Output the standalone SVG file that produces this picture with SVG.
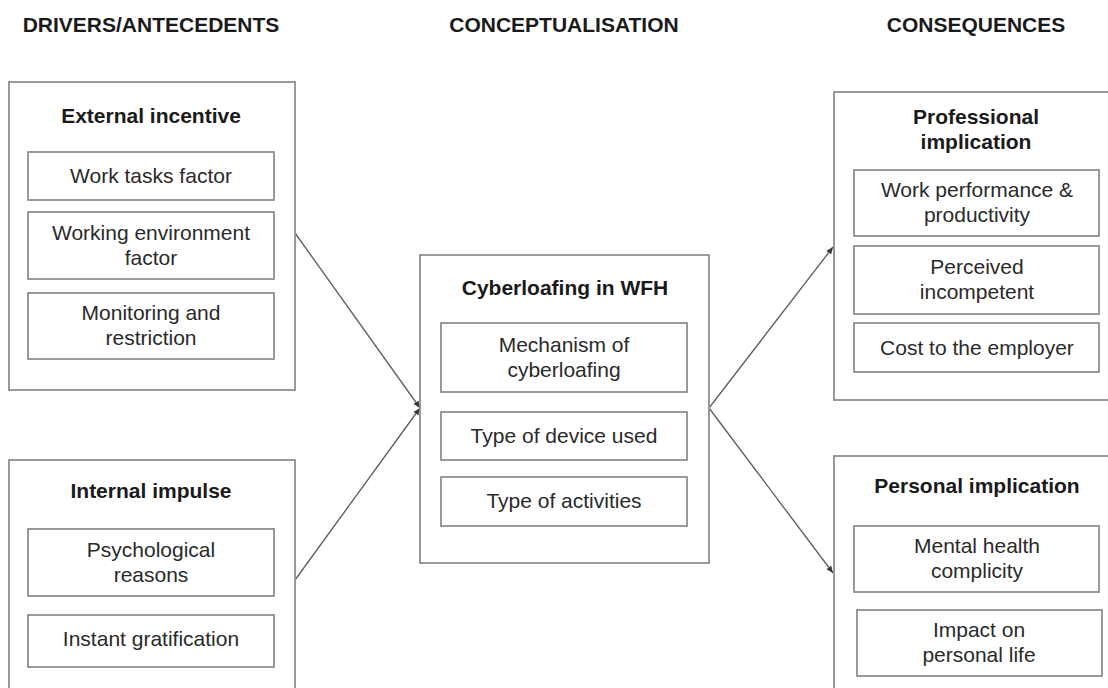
<svg xmlns="http://www.w3.org/2000/svg" width="1108" height="688" viewBox="0 0 1108 688">
  <style>
    .box { fill: #ffffff; stroke: #8f8f8f; stroke-width: 1.8; }
    .hdr { font-family: "Liberation Sans", Arial, sans-serif; font-size: 21px; font-weight: bold; fill: #1a1a1a; text-anchor: middle; }
    .ttl { font-family: "Liberation Sans", Arial, sans-serif; font-size: 21px; font-weight: bold; fill: #1a1a1a; text-anchor: middle; }
    .txt { font-family: "Liberation Sans", Arial, sans-serif; font-size: 21px; fill: #2a2a2a; text-anchor: middle; }
    .con { fill: none; stroke: #5a5a5a; stroke-width: 1.3; marker-end: url(#arr); }
  </style>
  <defs>
    <marker id="arr" markerUnits="userSpaceOnUse" markerWidth="8" markerHeight="8" refX="7" refY="4" orient="auto">
      <path d="M0,1 L7,4 L0,7 Z" fill="#3a3a3a"/>
    </marker>
  </defs>
  <rect width="1108" height="688" fill="#ffffff"/>

  <g id="headers">
    <text class="hdr" x="151" y="32">DRIVERS/ANTECEDENTS</text>
    <text class="hdr" x="564" y="32">CONCEPTUALISATION</text>
    <text class="hdr" x="976" y="32">CONSEQUENCES</text>
  </g>

  <g id="connectors">
    <line class="con" x1="295" y1="233" x2="420" y2="408"/>
    <line class="con" x1="295" y1="580" x2="420" y2="408"/>
    <line class="con" x1="709" y1="408" x2="833" y2="247"/>
    <line class="con" x1="709" y1="408" x2="833" y2="573"/>
  </g>

  <g id="external-incentive">
    <rect class="box" x="9" y="82" width="286" height="308"/>
    <text class="ttl" x="151" y="123">External incentive</text>
    <g id="work-tasks-factor">
      <rect class="box" x="28" y="152" width="246" height="48"/>
      <text class="txt" x="151" y="183">Work tasks factor</text>
    </g>
    <g id="working-environment-factor">
      <rect class="box" x="28" y="212" width="246" height="67"/>
      <text class="txt" x="151" y="240">Working environment</text>
      <text class="txt" x="151" y="265">factor</text>
    </g>
    <g id="monitoring-restriction">
      <rect class="box" x="28" y="293" width="246" height="66"/>
      <text class="txt" x="151" y="320">Monitoring and</text>
      <text class="txt" x="151" y="345">restriction</text>
    </g>
  </g>

  <g id="internal-impulse">
    <rect class="box" x="9" y="460" width="286" height="250"/>
    <text class="ttl" x="151" y="498">Internal impulse</text>
    <g id="psychological-reasons">
      <rect class="box" x="28" y="529" width="246" height="67"/>
      <text class="txt" x="151" y="557">Psychological</text>
      <text class="txt" x="151" y="582">reasons</text>
    </g>
    <g id="instant-gratification">
      <rect class="box" x="28" y="615" width="246" height="52"/>
      <text class="txt" x="151" y="646">Instant gratification</text>
    </g>
  </g>

  <g id="cyberloafing-in-wfh">
    <rect class="box" x="420" y="255" width="289" height="308"/>
    <text class="ttl" x="565" y="295">Cyberloafing in WFH</text>
    <g id="mechanism">
      <rect class="box" x="441" y="323" width="246" height="69"/>
      <text class="txt" x="564" y="352">Mechanism of</text>
      <text class="txt" x="564" y="377">cyberloafing</text>
    </g>
    <g id="device">
      <rect class="box" x="441" y="412" width="246" height="48"/>
      <text class="txt" x="564" y="443">Type of device used</text>
    </g>
    <g id="activities">
      <rect class="box" x="441" y="477" width="246" height="49"/>
      <text class="txt" x="564" y="508">Type of activities</text>
    </g>
  </g>

  <g id="professional-implication">
    <rect class="box" x="834" y="92" width="290" height="308"/>
    <text class="ttl" x="976" y="124">Professional</text>
    <text class="ttl" x="976" y="149">implication</text>
    <g id="work-performance">
      <rect class="box" x="854" y="170" width="245" height="66"/>
      <text class="txt" x="977" y="197">Work performance &amp;</text>
      <text class="txt" x="977" y="222">productivity</text>
    </g>
    <g id="perceived-incompetent">
      <rect class="box" x="854" y="246" width="245" height="68"/>
      <text class="txt" x="977" y="274">Perceived</text>
      <text class="txt" x="977" y="299">incompetent</text>
    </g>
    <g id="cost-employer">
      <rect class="box" x="854" y="323" width="245" height="49"/>
      <text class="txt" x="977" y="355">Cost to the employer</text>
    </g>
  </g>

  <g id="personal-implication">
    <rect class="box" x="834" y="456" width="290" height="260"/>
    <text class="ttl" x="977" y="493">Personal implication</text>
    <g id="mental-health">
      <rect class="box" x="854" y="526" width="245" height="66"/>
      <text class="txt" x="977" y="553">Mental health</text>
      <text class="txt" x="977" y="578">complicity</text>
    </g>
    <g id="impact-personal-life">
      <rect class="box" x="857" y="610" width="245" height="66"/>
      <text class="txt" x="979" y="637">Impact on</text>
      <text class="txt" x="979" y="662">personal life</text>
    </g>
  </g>
</svg>
